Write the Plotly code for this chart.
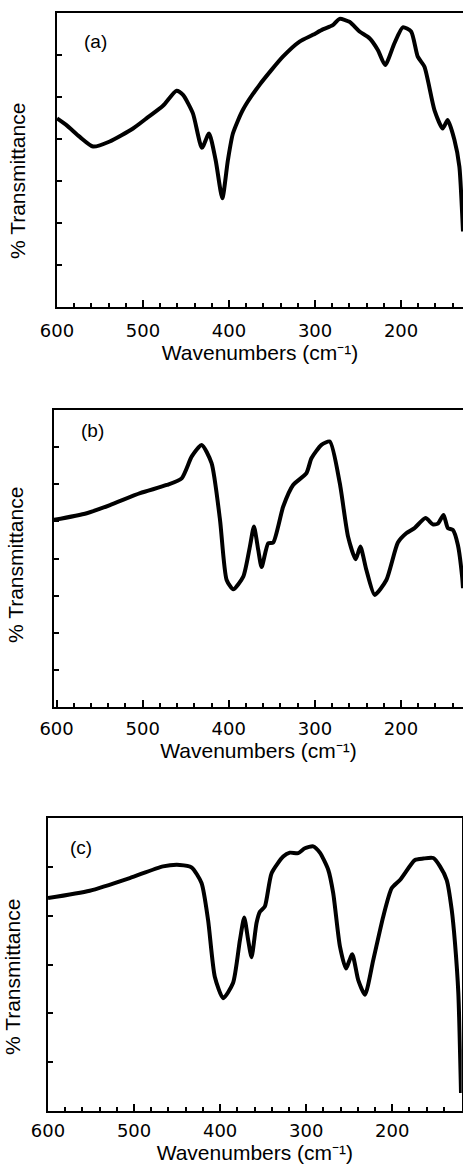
import plotly.graph_objects as go

# ---------------- data ----------------
# Panel (a)
A_WN = [600, 589, 573.5, 558, 538.7, 511.6, 496, 476.8, 461, 453.5, 442, 431.5, 423.3,
        415.6, 407.8, 401.3, 395.5, 384, 364.5, 337.4, 318, 302.5, 291, 279.3, 271.5,
        260, 248.3, 236.7, 227, 218.5, 207.7, 198, 188.3, 180.6, 172.8, 161.2, 151.6,
        145.8, 138, 132.2, 129, 128]
A_TR = [4.49, 4.33, 4.05, 3.82, 3.94, 4.25, 4.49, 4.79, 5.15, 5.05, 4.61, 3.79, 4.13,
        3.50, 2.59, 3.50, 4.13, 4.69, 5.29, 5.96, 6.32, 6.48, 6.61, 6.71, 6.86,
        6.79, 6.56, 6.40, 6.12, 5.76, 6.28, 6.66, 6.56, 5.96, 5.72, 4.69, 4.25,
        4.45, 3.98, 3.34, 2.23, 1.80]

# Panel (b)
B_WN = [603, 565, 538, 503, 472, 454.7, 443, 431.5, 420, 410.2, 402.5, 394.8, 383.2,
        375.5, 370.8, 365.8, 361.9, 354.2, 348.4, 336.8, 325.3, 309.8, 304, 292.4,
        282.7, 271.1, 261.5, 252.6, 247.2, 240.2, 230.6, 217, 203.6, 193.9, 184.3,
        171.5, 163, 157.2, 150.6, 145.6, 139.8, 134, 129, 128]
B_TR = [5.04, 5.22, 5.44, 5.76, 5.98, 6.16, 6.75, 7.06, 6.57, 5.04, 3.42, 3.17, 3.51,
        4.32, 4.86, 4.23, 3.77, 4.41, 4.43, 5.40, 5.98, 6.30, 6.70, 7.06,
        7.15, 6.03, 4.59, 3.98, 4.32, 3.69, 3.02, 3.42, 4.43, 4.68, 4.82,
        5.09, 4.92, 4.94, 5.17, 4.82, 4.77, 4.37, 3.51, 3.20]

# Panel (c)
C_WN = [600, 551.5, 505, 466.3, 446.9, 433.3, 421.6, 414, 406.2, 396.5, 385, 377, 372,
        367.4, 363.5, 357.7, 353.8, 348, 340.2, 326.7, 319, 309.3, 301.5, 291.9, 284.1,
        274.4, 268.6, 260.8, 253.8, 246.5, 239.5, 231.7, 222.1, 210.5, 200.7, 191,
        173.6, 163.9, 152.3, 144.5, 136.7, 130.9, 127.1, 123.2, 120.1]
C_TR = [4.36, 4.51, 4.77, 5.01, 5.04, 4.99, 4.67, 3.91, 2.75, 2.31, 2.62, 3.50, 3.96,
        3.50, 3.15, 3.85, 4.08, 4.19, 4.87, 5.21, 5.29, 5.28, 5.38, 5.42, 5.29,
        4.94, 4.46, 3.37, 2.92, 3.21, 2.68, 2.38, 3.09, 3.98, 4.56, 4.73,
        5.14, 5.17, 5.18, 5.01, 4.73, 4.12, 3.44, 2.41, 0.37]

PANEL_LABELS = ["(a)", "(b)", "(c)"]
X_TITLE = "Wavenumbers (cm\u207b\u00b9)"
Y_TITLE = "% Transmittance"
X_RANGES = [[600, 128], [603, 128], [600, 119.3]]
Y_MAX = [7, 8, 6]

# ---------------- layout helpers (pixels -> paper) ----------------
W, H = 463, 1173
def fx(p):
    return p / W
def fy(p):
    return 1 - p / H

# plot boxes in pixels: left, right, top, bottom
BOXES = [(57, 463, 13, 307), (54, 463, 410, 707), (48, 461.7, 818, 1111)]
YTITLE_POS = [(18, 181), (15, 565), (12, 977)]
LABEL_POS = [(95, 42), (92, 431), (81, 847)]
TICKLABEL_STANDOFF = [6, 4, 2]
XTITLE_STANDOFF = [4, 1, 5]

TITLE_FONT = dict(family="Liberation Sans", size=21, color="black")

fig = go.Figure()
series = [(A_WN, A_TR), (B_WN, B_TR), (C_WN, C_TR)]
annotations = []
for i, (wn, tr) in enumerate(series):
    n = "" if i == 0 else str(i + 1)
    fig.add_trace(go.Scatter(
        x=wn, y=tr, mode="lines",
        line=dict(color="black", width=4, shape="spline", smoothing=0.6),
        xaxis="x" + n, yaxis="y" + n, showlegend=False, hoverinfo="skip"))
    l, r, t, b = BOXES[i]
    xa = dict(
        domain=[fx(l), fx(r)], range=X_RANGES[i], anchor="y" + n,
        automargin=False,
        title=dict(text=X_TITLE, font=TITLE_FONT, standoff=XTITLE_STANDOFF[i]),
        showline=True, linecolor="black", linewidth=2, mirror=True,
        showgrid=False, zeroline=False,
        ticks="inside", tickmode="linear", tick0=0, dtick=100,
        ticklen=7, tickwidth=2, tickcolor="black",
        ticklabelstandoff=TICKLABEL_STANDOFF[i],
        minor=dict(ticks="inside", dtick=20, tick0=0, ticklen=4, tickwidth=2,
                   tickcolor="black", showgrid=False),
        tickfont=dict(family="DejaVu Sans", size=18, color="black"),
    )
    ya = dict(
        domain=[fy(b), fy(t)], range=[0, Y_MAX[i]], anchor="x" + n,
        automargin=False,
        showline=True, linecolor="black", linewidth=2, mirror=(i == 2),
        showgrid=False, zeroline=False,
        ticks="inside", tickmode="array", tickvals=list(range(1, Y_MAX[i])),
        ticklen=5, tickwidth=2, tickcolor="black", showticklabels=False,
    )
    fig.layout["xaxis" + n] = xa
    fig.layout["yaxis" + n] = ya

    yx, yy = YTITLE_POS[i]
    annotations.append(dict(
        text=Y_TITLE, x=fx(yx), y=fy(yy), xref="paper", yref="paper",
        xanchor="center", yanchor="middle", showarrow=False, textangle=-90,
        font=TITLE_FONT))
    lx, ly = LABEL_POS[i]
    annotations.append(dict(
        text=PANEL_LABELS[i], x=fx(lx), y=fy(ly), xref="paper", yref="paper",
        xanchor="center", yanchor="middle", showarrow=False,
        font=dict(family="Liberation Sans", size=19, color="black")))

fig.update_layout(
    width=W, height=H, margin=dict(l=0, r=0, t=0, b=0, pad=0, autoexpand=False),
    paper_bgcolor="white", plot_bgcolor="white",
    annotations=annotations,
)

fig.write_html(
    "out.html",
    config={"responsive": False, "displayModeBar": False},
    post_script="document.body.style.margin='0';document.body.style.overflow='hidden';",
)
